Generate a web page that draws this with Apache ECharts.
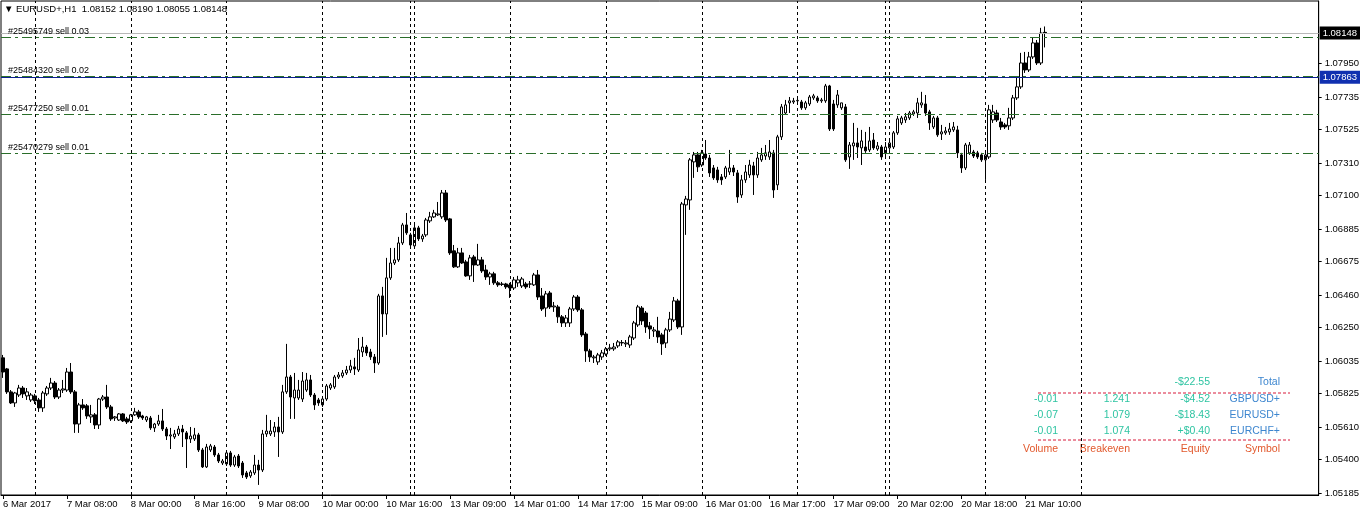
<!DOCTYPE html>
<html><head><meta charset="utf-8">
<script src="https://cdn.jsdelivr.net/npm/echarts@6/dist/echarts.min.js"></script>
<style>html,body{margin:0;padding:0;background:#fff}#c{width:1362px;height:517px}</style>
</head><body><div id="c"></div>
<script>
// ---- data ----
const xLabels = ['6 Mar 2017','7 Mar 08:00','8 Mar 00:00','8 Mar 16:00','9 Mar 08:00','10 Mar 00:00','10 Mar 16:00','13 Mar 09:00','14 Mar 01:00','14 Mar 17:00','15 Mar 09:00','16 Mar 01:00','16 Mar 17:00','17 Mar 09:00','20 Mar 02:00','20 Mar 18:00','21 Mar 10:00'];
const labelEvery = 16;
const slotCount = 330;
const daySeparators = [8, 32, 56, 80, 102, 103, 127, 151, 175, 199, 221, 222, 246, 270];
const priceTicks = [1.05185,1.05400,1.05610,1.05825,1.06035,1.06250,1.06460,1.06675,1.06885,1.07100,1.07310,1.07525,1.07735,1.07950];
const orderLines = [
  {price: 1.08122, text: '#25495749 sell 0.03'},
  {price: 1.07870, text: '#25484320 sell 0.02'},
  {price: 1.07626, text: '#25477250 sell 0.01'},
  {price: 1.07375, text: '#25470279 sell 0.01'}
];
const bidPrice = 1.08148;
const bluePrice = 1.07863;
const title = '\u25BC EURUSD+,H1  1.08152 1.08190 1.08055 1.08148';
// open, close, low, high
const candles = [
[1.06056,1.05965,1.05927,1.06075],[1.05985,1.05837,1.05824,1.05991],[1.05837,1.05766,1.05759,1.05849],[1.05766,1.05830,1.05740,1.05837],
[1.05817,1.05862,1.05804,1.05882],[1.05862,1.05824,1.05798,1.05875],[1.05811,1.05837,1.05785,1.05862],[1.05785,1.05817,1.05772,1.05830],
[1.05811,1.05779,1.05759,1.05824],[1.05785,1.05734,1.05708,1.05798],[1.05734,1.05830,1.05708,1.05843],[1.05824,1.05862,1.05811,1.05875],
[1.05862,1.05894,1.05849,1.05927],[1.05894,1.05804,1.05791,1.05907],[1.05804,1.05849,1.05791,1.05862],[1.05849,1.05856,1.05830,1.05914],
[1.05849,1.05965,1.05837,1.05991],[1.05965,1.05837,1.05824,1.06023],[1.05837,1.05630,1.05573,1.05849],[1.05630,1.05753,1.05573,1.05766],
[1.05753,1.05734,1.05721,1.05791],[1.05747,1.05682,1.05663,1.05759],[1.05676,1.05689,1.05637,1.05753],[1.05689,1.05624,1.05598,1.05701],
[1.05624,1.05791,1.05598,1.05798],[1.05791,1.05804,1.05779,1.05817],[1.05804,1.05740,1.05727,1.05882],[1.05740,1.05663,1.05650,1.05753],
[1.05669,1.05676,1.05650,1.05682],[1.05656,1.05695,1.05650,1.05701],[1.05695,1.05650,1.05643,1.05701],[1.05663,1.05643,1.05630,1.05676],
[1.05650,1.05689,1.05637,1.05695],[1.05689,1.05708,1.05682,1.05734],[1.05708,1.05676,1.05663,1.05721],[1.05682,1.05669,1.05656,1.05689],
[1.05656,1.05676,1.05643,1.05682],[1.05669,1.05605,1.05592,1.05682],[1.05605,1.05630,1.05579,1.05637],[1.05630,1.05650,1.05618,1.05689],
[1.05650,1.05598,1.05585,1.05727],[1.05598,1.05553,1.05527,1.05611],[1.05553,1.05560,1.05469,1.05605],[1.05547,1.05566,1.05534,1.05592],
[1.05566,1.05598,1.05553,1.05618],[1.05598,1.05579,1.05482,1.05624],[1.05573,1.05534,1.05347,1.05585],[1.05534,1.05553,1.05508,1.05611],
[1.05534,1.05560,1.05521,1.05605],[1.05560,1.05463,1.05450,1.05573],[1.05463,1.05354,1.05347,1.05476],[1.05354,1.05482,1.05347,1.05502],
[1.05463,1.05489,1.05450,1.05502],[1.05482,1.05431,1.05418,1.05495],[1.05431,1.05392,1.05379,1.05444],[1.05379,1.05392,1.05366,1.05405],
[1.05373,1.05444,1.05360,1.05457],[1.05444,1.05366,1.05354,1.05457],[1.05366,1.05418,1.05354,1.05431],[1.05424,1.05360,1.05347,1.05437],
[1.05379,1.05302,1.05283,1.05392],[1.05315,1.05289,1.05276,1.05328],[1.05296,1.05321,1.05283,1.05334],[1.05315,1.05366,1.05302,1.05431],
[1.05366,1.05334,1.05238,1.05399],[1.05334,1.05566,1.05321,1.05592],[1.05566,1.05585,1.05547,1.05689],[1.05566,1.05585,1.05553,1.05656],
[1.05579,1.05611,1.05547,1.05643],[1.05611,1.05579,1.05418,1.05676],[1.05579,1.05837,1.05566,1.05882],[1.05837,1.05933,1.05824,1.06146],
[1.05933,1.05804,1.05663,1.05946],[1.05798,1.05849,1.05663,1.05959],[1.05798,1.05849,1.05785,1.05914],[1.05791,1.05907,1.05772,1.05965],
[1.05849,1.05914,1.05837,1.05959],[1.05914,1.05817,1.05804,1.05946],[1.05817,1.05753,1.05721,1.05830],[1.05785,1.05766,1.05747,1.05798],
[1.05753,1.05791,1.05740,1.05804],[1.05791,1.05875,1.05779,1.05888],[1.05862,1.05882,1.05849,1.05894],[1.05869,1.05933,1.05856,1.05946],
[1.05933,1.05946,1.05920,1.05965],[1.05940,1.05959,1.05927,1.05978],[1.05959,1.05978,1.05946,1.06004],[1.05978,1.06004,1.05959,1.06043],
[1.05998,1.05985,1.05946,1.06056],[1.05978,1.06107,1.05965,1.06184],[1.06094,1.06126,1.06062,1.06191],[1.06126,1.06088,1.06069,1.06139],
[1.06094,1.06062,1.06043,1.06114],[1.06062,1.06023,1.05959,1.06081],[1.06023,1.06455,1.06011,1.06468],[1.06455,1.06339,1.06191,1.06513],
[1.06339,1.06571,1.06204,1.06700],[1.06571,1.06667,1.06558,1.06764],[1.06667,1.06687,1.06654,1.06764],[1.06687,1.06796,1.06674,1.06835],
[1.06796,1.06912,1.06783,1.06925],[1.06912,1.06861,1.06848,1.06989],[1.06848,1.06783,1.06770,1.06861],[1.06777,1.06893,1.06764,1.06925],
[1.06893,1.06822,1.06809,1.06906],[1.06822,1.06841,1.06803,1.06854],[1.06848,1.06944,1.06835,1.06957],[1.06938,1.06964,1.06925,1.06996],
[1.06964,1.06989,1.06957,1.07009],[1.06977,1.06983,1.06970,1.07060],[1.06964,1.07118,1.06951,1.07137],[1.07118,1.06944,1.06931,1.07137],
[1.06951,1.06732,1.06719,1.06957],[1.06745,1.06642,1.06635,1.06783],[1.06642,1.06732,1.06635,1.06764],[1.06732,1.06667,1.06661,1.06764],
[1.06674,1.06584,1.06578,1.06687],[1.06584,1.06700,1.06558,1.06719],[1.06706,1.06654,1.06545,1.06719],[1.06654,1.06687,1.06648,1.06790],
[1.06687,1.06616,1.06603,1.06706],[1.06622,1.06577,1.06558,1.06655],[1.06577,1.06597,1.06526,1.06610],[1.06597,1.06539,1.06526,1.06610],
[1.06539,1.06526,1.06513,1.06551],[1.06532,1.06529,1.06519,1.06545],[1.06532,1.06513,1.06500,1.06539],[1.06526,1.06506,1.06442,1.06539],
[1.06506,1.06558,1.06493,1.06577],[1.06539,1.06558,1.06513,1.06584],[1.06519,1.06564,1.06506,1.06577],[1.06532,1.06513,1.06500,1.06545],
[1.06532,1.06531,1.06506,1.06551],[1.06526,1.06590,1.06519,1.06603],[1.06590,1.06448,1.06429,1.06622],[1.06455,1.06371,1.06358,1.06506],
[1.06377,1.06468,1.06320,1.06487],[1.06474,1.06384,1.06371,1.06487],[1.06384,1.06390,1.06352,1.06416],[1.06384,1.06320,1.06281,1.06397],
[1.06320,1.06281,1.06255,1.06332],[1.06281,1.06313,1.06255,1.06332],[1.06281,1.06371,1.06255,1.06384],[1.06371,1.06448,1.06358,1.06461],
[1.06448,1.06365,1.06352,1.06461],[1.06365,1.06204,1.06191,1.06377],[1.06210,1.06101,1.06030,1.06223],[1.06101,1.06062,1.06030,1.06114],
[1.06056,1.06062,1.06023,1.06075],[1.06030,1.06075,1.06011,1.06088],[1.06062,1.06088,1.06043,1.06107],[1.06081,1.06114,1.06069,1.06126],
[1.06114,1.06120,1.06101,1.06146],[1.06114,1.06126,1.06101,1.06152],[1.06133,1.06159,1.06120,1.06171],[1.06152,1.06155,1.06133,1.06171],
[1.06146,1.06152,1.06126,1.06171],[1.06139,1.06191,1.06120,1.06204],[1.06184,1.06281,1.06171,1.06294],[1.06268,1.06384,1.06255,1.06397],
[1.06377,1.06294,1.06268,1.06390],[1.06345,1.06255,1.06217,1.06358],[1.06262,1.06242,1.06178,1.06287],[1.06229,1.06236,1.06191,1.06255],
[1.06229,1.06191,1.06152,1.06320],[1.06204,1.06146,1.06075,1.06217],[1.06152,1.06236,1.06120,1.06249],[1.06236,1.06306,1.06223,1.06352],
[1.06300,1.06423,1.06287,1.06448],[1.06423,1.06255,1.06242,1.06436],[1.06255,1.07047,1.06204,1.07060],[1.07041,1.07079,1.06848,1.07099],
[1.07073,1.07331,1.07009,1.07343],[1.07318,1.07363,1.07215,1.07382],[1.07363,1.07286,1.07253,1.07382],[1.07298,1.07376,1.07286,1.07395],
[1.07369,1.07343,1.07331,1.07459],[1.07343,1.07247,1.07221,1.07363],[1.07279,1.07215,1.07202,1.07298],[1.07266,1.07202,1.07183,1.07286],
[1.07221,1.07202,1.07170,1.07240],[1.07221,1.07279,1.07208,1.07292],[1.07253,1.07279,1.07234,1.07395],[1.07279,1.07253,1.07227,1.07298],
[1.07247,1.07092,1.07054,1.07266],[1.07105,1.07202,1.07086,1.07234],[1.07202,1.07253,1.07183,1.07298],[1.07234,1.07298,1.07215,1.07331],
[1.07292,1.07234,1.07105,1.07318],[1.07234,1.07343,1.07215,1.07382],[1.07331,1.07363,1.07318,1.07408],[1.07356,1.07376,1.07331,1.07427],
[1.07350,1.07382,1.07331,1.07459],[1.07376,1.07137,1.07086,1.07395],[1.07170,1.07479,1.07137,1.07492],[1.07479,1.07672,1.07459,1.07691],
[1.07633,1.07685,1.07620,1.07717],[1.07698,1.07711,1.07633,1.07736],[1.07704,1.07711,1.07691,1.07730],[1.07711,1.07714,1.07691,1.07730],
[1.07704,1.07666,1.07653,1.07717],[1.07666,1.07698,1.07653,1.07711],[1.07691,1.07736,1.07678,1.07749],[1.07730,1.07743,1.07717,1.07756],
[1.07730,1.07711,1.07698,1.07743],[1.07711,1.07717,1.07698,1.07730],[1.07711,1.07807,1.07698,1.07820],[1.07807,1.07530,1.07517,1.07814],
[1.07691,1.07530,1.07517,1.07717],[1.07685,1.07749,1.07666,1.07781],[1.07666,1.07698,1.07653,1.07698],[1.07672,1.07331,1.07318,1.07691],
[1.07350,1.07427,1.07273,1.07446],[1.07421,1.07440,1.07331,1.07569],[1.07440,1.07414,1.07343,1.07537],[1.07408,1.07453,1.07298,1.07524],
[1.07414,1.07389,1.07376,1.07511],[1.07395,1.07453,1.07382,1.07543],[1.07459,1.07408,1.07395,1.07504],[1.07401,1.07421,1.07389,1.07446],
[1.07414,1.07350,1.07331,1.07427],[1.07376,1.07414,1.07350,1.07446],[1.07408,1.07440,1.07395,1.07459],[1.07414,1.07505,1.07401,1.07517],
[1.07505,1.07595,1.07492,1.07614],[1.07569,1.07601,1.07556,1.07614],[1.07588,1.07608,1.07569,1.07633],[1.07601,1.07633,1.07588,1.07646],
[1.07627,1.07640,1.07614,1.07653],[1.07633,1.07698,1.07601,1.07730],[1.07685,1.07698,1.07666,1.07769],[1.07691,1.07633,1.07614,1.07749],
[1.07640,1.07569,1.07524,1.07653],[1.07543,1.07601,1.07530,1.07614],[1.07601,1.07492,1.07479,1.07614],[1.07498,1.07511,1.07459,1.07556],
[1.07505,1.07517,1.07492,1.07543],[1.07511,1.07530,1.07492,1.07569],[1.07524,1.07543,1.07511,1.07575],[1.07524,1.07376,1.07343,1.07550],
[1.07363,1.07279,1.07247,1.07376],[1.07279,1.07427,1.07266,1.07440],[1.07376,1.07427,1.07363,1.07446],[1.07382,1.07356,1.07343,1.07395],
[1.07376,1.07350,1.07337,1.07389],[1.07363,1.07331,1.07318,1.07376],[1.07331,1.07363,1.07202,1.07376],[1.07350,1.07653,1.07337,1.07685],
[1.07588,1.07640,1.07569,1.07685],[1.07633,1.07588,1.07575,1.07653],[1.07575,1.07543,1.07524,1.07601],[1.07556,1.07543,1.07530,1.07569],
[1.07550,1.07601,1.07524,1.07666],[1.07601,1.07730,1.07588,1.07749],[1.07730,1.07801,1.07717,1.07859],[1.07801,1.07955,1.07788,1.08020],
[1.07955,1.07910,1.07891,1.08026],[1.07910,1.07994,1.07897,1.08026],[1.07994,1.08084,1.07981,1.08116],[1.08084,1.07955,1.07942,1.08103],
[1.07955,1.08148,1.07942,1.08181],[1.08152,1.08148,1.08055,1.08190]
];
// summary table
const tableRows = [
  {vol: '-0.01', be: '1.241', eq: '-$4.52', sym: 'GBPUSD+'},
  {vol: '-0.07', be: '1.079', eq: '-$18.43', sym: 'EURUSD+'},
  {vol: '-0.01', be: '1.074', eq: '+$0.40', sym: 'EURCHF+'}
];
const totalEquity = '-$22.55';
const tableHeader = ['Volume', 'Breakeven', 'Equity', 'Symbol'];

// ---- chart ----
const FONT = '"Liberation Sans", Arial, sans-serif';
const chart = echarts.init(document.getElementById('c'), null, {renderer: 'canvas'});
const categories = Array.from({length: slotCount}, (_, i) => String(i));
const hasLabel = i => i % labelEvery === 0 && i / labelEvery < xLabels.length;

const sepData = daySeparators.map(ix => ({
  xAxis: ix, lineStyle: {color: '#000', type: [3, 3], width: 1}, label: {show: false}
}));
const priceLineData = [];
priceLineData.push({yAxis: bluePrice, lineStyle: {color: '#0a1f8f', type: 'solid', width: 1},
  label: {show: true, position: 'end', distance: 1, formatter: bluePrice.toFixed(5), color: '#fff',
    backgroundColor: '#1030b0', padding: [2, 3, 1, 3], fontSize: 9.5, fontFamily: FONT}});
orderLines.forEach(o => priceLineData.push({
  yAxis: o.price, lineStyle: {color: '#2a6e2a', type: [10, 4, 3, 4], width: 1},
  label: {show: true, position: 'insideStartTop', formatter: o.text, color: '#000', fontSize: 9,
    fontFamily: FONT, distance: [7, 1]}
}));
priceLineData.push({yAxis: bidPrice, lineStyle: {color: '#b8b8b8', type: 'solid', width: 1},
  label: {show: true, position: 'end', distance: 1, formatter: bidPrice.toFixed(5), color: '#fff',
    backgroundColor: '#000', padding: [2, 3, 1, 3], fontSize: 9.5, fontFamily: FONT}});

const graphics = [
  {type: 'text', left: 4, top: 4, style: {text: title, fill: '#000', font: '9.5px ' + FONT}}
];
const colR = [1058, 1130, 1210, 1280];
const textColor = '#2ec4a2', symColor = '#3d86cf', headColor = '#e2582c';
function txt(x, y, s, c) {
  return {type: 'text', x: x, y: y, style: {text: s, fill: c, font: '10.5px ' + FONT, textAlign: 'right', textVerticalAlign: 'middle'}};
}
graphics.push(txt(colR[2], 382, totalEquity, textColor));
graphics.push(txt(colR[3], 382, 'Total', symColor));
tableRows.forEach((r, k) => {
  const y = 399 + k * 16;
  graphics.push(txt(colR[0], y, r.vol, textColor));
  graphics.push(txt(colR[1], y, r.be, textColor));
  graphics.push(txt(colR[2], y, r.eq, textColor));
  graphics.push(txt(colR[3], y, r.sym, symColor));
});
tableHeader.forEach((h, k) => graphics.push(txt(colR[k], 449, h, headColor)));
[393, 440].forEach(y => graphics.push({type: 'line', shape: {x1: 1038, y1: y, x2: 1290, y2: y},
  style: {stroke: '#d81a3a', lineWidth: 1, lineDash: [3, 2]}}));

chart.setOption({
  animation: false,
  backgroundColor: '#fff',
  grid: {left: 1, right: 41, top: 1, bottom: 22, show: true, borderColor: '#000', borderWidth: 1, backgroundColor: '#fff'},
  xAxis: {
    type: 'category', data: categories, boundaryGap: true,
    axisLine: {show: true, lineStyle: {color: '#000'}},
    axisTick: {show: true, interval: (i) => hasLabel(i), alignWithLabel: true, length: 4, lineStyle: {color: '#000'}},
    axisLabel: {interval: (i) => hasLabel(i), align: 'left', margin: 4, color: '#000', fontSize: 9.5, fontFamily: FONT,
      formatter: (v, i) => hasLabel(i) ? xLabels[i / labelEvery] : ''},
    splitLine: {show: false}
  },
  yAxis: {
    type: 'value', position: 'right', min: 1.05173, max: 1.08354, scale: true,
    axisLine: {show: true, lineStyle: {color: '#000'}},
    axisTick: {show: true, length: 3, customValues: priceTicks, lineStyle: {color: '#000'}},
    axisLabel: {customValues: priceTicks, margin: 6, color: '#000', fontSize: 9.5, fontFamily: FONT,
      formatter: v => v.toFixed(5)},
    splitLine: {show: false}
  },
  graphic: graphics,
  series: [
    {type: 'line', data: [], silent: true, z: 1,
      markLine: {silent: true, symbol: ['none', 'none'], animation: false, precision: 5, data: sepData}},
    {type: 'candlestick', data: candles, barWidth: 3, z: 2,
      itemStyle: {color: '#fff', color0: '#000', borderColor: '#000', borderColor0: '#000', borderWidth: 1}},
    {type: 'line', data: [], silent: true, z: 3,
      markLine: {silent: true, symbol: ['none', 'none'], animation: false, precision: 5, data: priceLineData}}
  ]
});
</script></body></html>
